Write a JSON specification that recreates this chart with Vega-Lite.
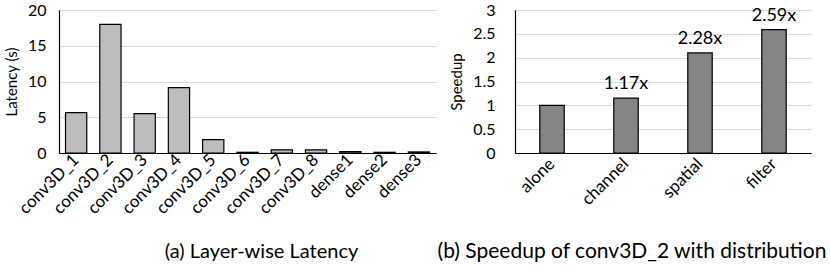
{
  "$schema": "https://vega.github.io/schema/vega-lite/v6.json",
  "padding": {"left": 4, "top": 2, "right": 5, "bottom": 5},
  "background": "white",
  "spacing": 1,
  "config": {
    "font": "Lato",
    "view": {"stroke": null},
    "axis": {
      "labelFont": "Lato",
      "titleFont": "Lato",
      "labelColor": "#000",
      "titleColor": "#000",
      "titleFontWeight": "normal",
      "ticks": false,
      "domainColor": "#000",
      "domainWidth": 1.2,
      "gridColor": "#d9d9d9",
      "gridWidth": 1
    },
    "title": {"font": "Lato", "fontWeight": "normal", "fontSize": 20, "color": "#000"}
  },
  "datasets": {
    "latency": [
      {"layer": "conv3D_1", "latency": 5.64},
      {"layer": "conv3D_2", "latency": 18.0},
      {"layer": "conv3D_3", "latency": 5.5},
      {"layer": "conv3D_4", "latency": 9.13},
      {"layer": "conv3D_5", "latency": 1.86},
      {"layer": "conv3D_6", "latency": 0.1},
      {"layer": "conv3D_7", "latency": 0.45},
      {"layer": "conv3D_8", "latency": 0.45},
      {"layer": "dense1", "latency": 0.2},
      {"layer": "dense2", "latency": 0.1},
      {"layer": "dense3", "latency": 0.15}
    ],
    "speedup": [
      {"mode": "alone", "speedup": 1.0, "label": ""},
      {"mode": "channel", "speedup": 1.15, "label": "1.17x"},
      {"mode": "spatial", "speedup": 2.1, "label": "2.28x"},
      {"mode": "filter", "speedup": 2.59, "label": "2.59x"}
    ]
  },
  "hconcat": [
    {
      "width": 377,
      "height": 143,
      "title": {"text": "(a) Layer-wise Latency", "orient": "bottom", "anchor": "middle", "offset": 26, "dx": 14},
      "data": {"name": "latency"},
      "mark": {"type": "bar", "fill": "#bdbdbd", "stroke": "#000", "strokeWidth": 1.2},
      "encoding": {
        "x": {
          "field": "layer", "type": "nominal", "sort": null,
          "scale": {"paddingInner": 0.38, "paddingOuter": 0.19},
          "axis": {"title": null, "labelAngle": -45, "labelAlign": "right", "labelBaseline": "middle", "labelFontSize": 17, "labelPadding": 4, "domainColor": "#000"}
        },
        "y": {
          "field": "latency", "type": "quantitative",
          "scale": {"domain": [0, 20]},
          "axis": {"values": [0, 5, 10, 15, 20], "title": "Latency (s)", "titleFontSize": 15, "labelFontSize": 16, "labelPadding": 13, "titlePadding": 8, "domain": true}
        }
      }
    },
    {
      "width": 296,
      "height": 143,
      "title": {"text": "(b) Speedup of conv3D_2 with distribution", "orient": "bottom", "anchor": "middle", "frame": "group", "offset": 33, "dx": -31, "fontSize": 21},
      "data": {"name": "speedup"},
      "encoding": {
        "x": {
          "field": "mode", "type": "nominal", "sort": null,
          "scale": {"paddingInner": 0.67, "paddingOuter": 0.335},
          "axis": {"title": null, "labelAngle": -45, "labelAlign": "right", "labelBaseline": "middle", "labelFontSize": 17, "labelPadding": 8}
        },
        "y": {
          "field": "speedup", "type": "quantitative",
          "scale": {"domain": [0, 3]},
          "axis": {"values": [0, 0.5, 1, 1.5, 2, 2.5, 3], "format": "~g", "title": "Speedup", "titleFontSize": 15, "labelFontSize": 16, "labelPadding": 20, "titlePadding": 8}
        }
      },
      "layer": [
        {"mark": {"type": "bar", "fill": "#858585", "stroke": "#000", "strokeWidth": 1.2}},
        {
          "mark": {"type": "text", "baseline": "bottom", "dy": -5, "fontSize": 18, "color": "#000"},
          "encoding": {"text": {"field": "label"}}
        }
      ]
    }
  ]
}
